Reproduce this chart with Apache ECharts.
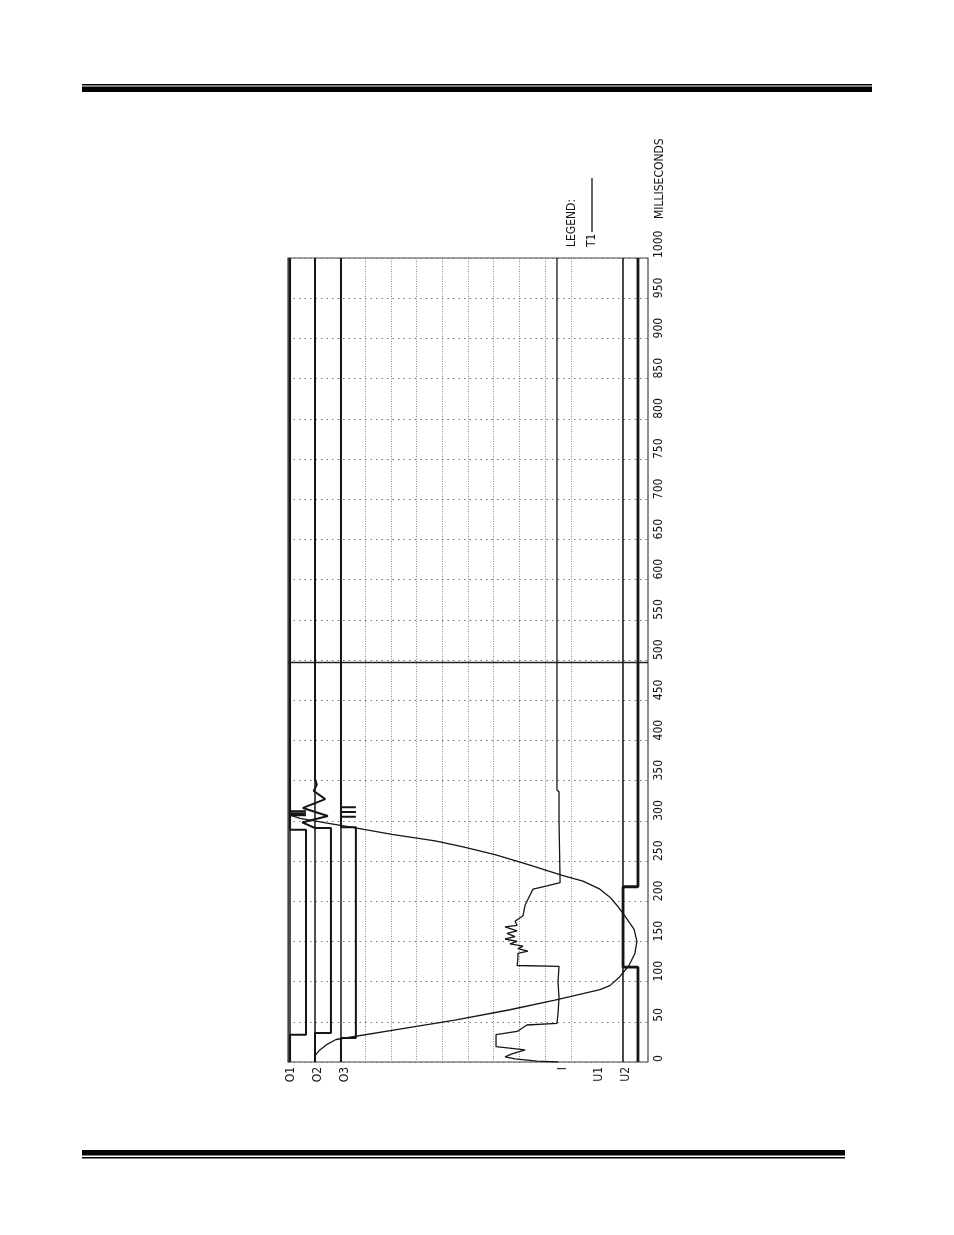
<!DOCTYPE html>
<html><head><meta charset="utf-8">
<script src="https://cdn.jsdelivr.net/npm/echarts@6/dist/echarts.min.js"></script>
<style>html,body{margin:0;padding:0;background:#fff}#c{width:954px;height:1235px}</style>
</head><body><div id="c"></div>
<script>
// time axis (ms)
const timeMin = 0, timeMax = 1000, timeStep = 50;
const timeUnit = 'MILLISECONDS';
// channel names and label positions (amplitude axis, divisions)
const channelNames = ['O1','O2','O3','I','U1','U2'];
const channelLabelPos = [0.12, 1.17, 2.2, 10.7, 12.1, 13.15];
// channel baselines (divisions)
const baselineValues = [0.08, 1.05, 2.06, 13.0];
// dotted vertical grid positions (divisions)
const gridDivs = [3,4,5,6,7,8,9,10,11,13];
// T1 cursor (ms)
const cursorName = 'T1';
const cursorT1 = 497;

// O1 digital trace
const o1Time  = [0, 34, 34, 289, 289, 307, 307, 307, 309, 309, 309, 312, 312, 312, 1000];
const o1Value = [0.08,0.08,0.70,0.70,0.08,0.08,0.70,0.08,0.08,0.70,0.08,0.08,0.70,0.08,0.08];
// O2 digital trace with contact bounce oscillation
const o2Time  = [0, 36, 36, 291, 291, 298, 306, 316, 327, 337, 345, 352, 1000];
const o2Value = [1.05,1.05,1.67,1.67,1.05,0.55,1.55,0.58,1.45,1.0,1.12,1.05,1.05];
// O3 digital trace
const o3Time  = [0, 30, 30, 292, 292, 305, 305, 305, 311, 311, 311, 317, 317, 317, 1000];
const o3Value = [2.06,2.06,2.64,2.64,2.06,2.06,2.64,2.06,2.06,2.64,2.06,2.06,2.64,2.06,2.06];
// current I
const iTime  = [0,1,4,6.5,10,15,19,34,38,46,48,60,80,100,119,120,128,135,138,141,144,147,150,153,156,160,163,168,170,175,182,195,205,215,219,223,226,300,336,338,1000];
const iValue = [10.50,9.68,8.83,8.44,8.71,9.22,8.09,8.09,8.91,9.29,10.46,10.50,10.54,10.50,10.54,8.91,8.94,8.94,9.33,8.94,9.14,8.63,8.91,8.44,8.83,8.52,8.91,8.44,8.91,8.83,9.14,9.22,9.37,9.53,10.07,10.58,10.58,10.54,10.54,10.46,10.46];
// voltage U1
const u1Time  = [0,8,15,22,28,40,52,65,77,85,90,95,105,120,135,150,165,180,195,205,215,225,232,245,258,268,275,283,291,297,303,307,1000];
const u1Value = [1.05,1.05,1.24,1.52,1.87,4.16,6.49,8.63,10.38,11.47,12.13,12.52,12.87,13.26,13.49,13.57,13.46,13.14,12.79,12.52,12.13,11.47,10.66,9.41,8.05,6.77,5.72,4.04,2.68,1.52,0.47,0.08,0.08];
// voltage U2
const u2Time  = [0, 118, 118, 218, 218, 1000];
const u2Value = [13.61,13.61,13.03,13.03,13.61,13.61];

const zip = (t, v) => t.map((tt, k) => [v[k], tt]);
const labelMap = {};
channelLabelPos.forEach((p, k) => labelMap[p] = channelNames[k]);
const ink = '#151515';
const fam = "'Liberation Sans Narrow','DejaVu Sans Condensed','DejaVu Sans',sans-serif";

function trace(name, t, v, w) {
  return {name, type:'line', data: zip(t, v), showSymbol:false, symbol:'none', silent:true,
    lineStyle:{color:ink, width:w}, animation:false, z:5};
}

const chart = echarts.init(document.getElementById('c'), null, {renderer:'canvas'});
chart.setOption({
  backgroundColor:'#fff',
  animation:false,
  grid:{left:288, top:258, width:360, height:804, show:true, borderColor:'#444', borderWidth:1.2, backgroundColor:'transparent'},
  xAxis:{type:'value', min:0, max:14,
    axisLine:{show:false}, axisTick:{show:false}, splitLine:{show:false},
    axisLabel:{customValues:channelLabelPos, formatter:v => labelMap[v] || '', rotate:90, margin:5,
      fontFamily:fam, fontSize:12, color:ink}},
  yAxis:{type:'value', position:'right', min:timeMin, max:timeMax, interval:timeStep,
    axisLine:{show:true, lineStyle:{color:'#444', width:1.2}}, axisTick:{show:false},
    splitLine:{show:true, lineStyle:{color:'#777', type:[1.5,4], width:1}},
    axisLabel:{rotate:90, margin:11, fontFamily:fam, fontSize:12, color:ink, align:'left', verticalAlign:'middle',
      formatter:v => String(v)}},
  series:[
    {name:'grid', type:'line', data:[], silent:true,
      markLine:{silent:true, symbol:'none', label:{show:false}, animation:false,
        lineStyle:{color:'#888', type:[1,1.5], width:1},
        data: gridDivs.map(d => ({xAxis:d}))}},
    {name:'baselines', type:'line', data:[], silent:true,
      markLine:{silent:true, symbol:'none', label:{show:false}, animation:false,
        lineStyle:{color:ink, type:'solid', width:1.5},
        data: baselineValues.map(d => ({xAxis:d}))}},
    {name:cursorName, type:'line', data:[], silent:true,
      markLine:{silent:true, symbol:'none', label:{show:false}, animation:false,
        lineStyle:{color:'#222', type:'solid', width:1.3},
        data:[{yAxis:cursorT1}]}},
    trace('O1', o1Time, o1Value, 2),
    trace('O2', o2Time, o2Value, 2),
    trace('O3', o3Time, o3Value, 2),
    trace('I', iTime, iValue, 1.3),
    trace('U1', u1Time, u1Value, 1.3),
    trace('U2', u2Time, u2Value, 2.8)
  ],
  graphic:[
    {type:'rect', shape:{x:82, y:84, width:790, height:1.6}, style:{fill:'#000'}},
    {type:'rect', shape:{x:82, y:86.5, width:790, height:5.5}, style:{fill:'#000'}},
    {type:'rect', shape:{x:82, y:1150, width:763, height:5.5}, style:{fill:'#000'}},
    {type:'rect', shape:{x:82, y:1157, width:763, height:1.6}, style:{fill:'#000'}},
    {type:'text', x:660, y:219, rotation:Math.PI/2, style:{text:timeUnit, font:"12px " + fam, fill:ink, textAlign:'left', textVerticalAlign:'middle'}},
    {type:'text', x:572, y:247, rotation:Math.PI/2, style:{text:'LEGEND:', font:"12px " + fam, fill:ink, textAlign:'left', textVerticalAlign:'middle'}},
    {type:'text', x:592, y:247, rotation:Math.PI/2, style:{text:cursorName, font:"12px " + fam, fill:ink, textAlign:'left', textVerticalAlign:'middle'}},
    {type:'line', shape:{x1:592, y1:232, x2:592, y2:178}, style:{stroke:ink, lineWidth:1.3}}
  ]
});
</script></body></html>
